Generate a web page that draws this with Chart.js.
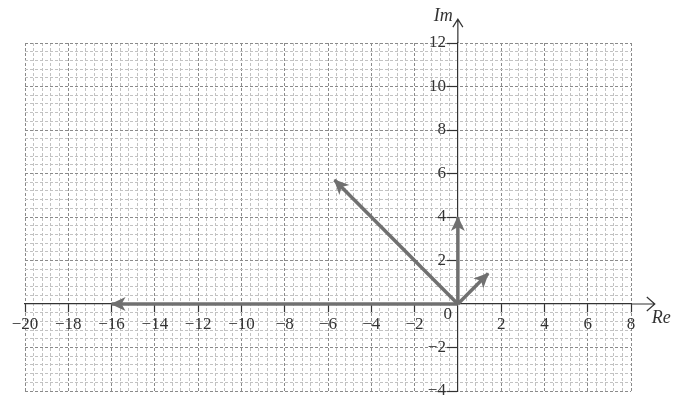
<!DOCTYPE html>
<html>
<head>
<meta charset="utf-8">
<script src="https://cdn.jsdelivr.net/npm/chart.js@4.4.0/dist/chart.umd.min.js"></script>
<style>
  body { margin: 0; background: #fff; }
</style>
</head>
<body>
<canvas id="myChart" width="681" height="406"></canvas>
<script>
// vectors drawn from the origin: real and imaginary parts
var reParts = [1.4, 0, -5.7, -16];
var imParts = [1.4, 4, 5.7, 0];

var xRange = [-20, 8];
var yRange = [-4, 12];
var gridStep = 0.4;   // fine grid
var labelStep = 2;    // labelled ticks
var axisNames = ['Re', 'Im'];

var serif = "'Liberation Serif', 'DejaVu Serif', serif";
Chart.defaults.font.family = serif;
Chart.defaults.font.size = 17;
Chart.defaults.color = '#333';

function isMajor(v) {
  return Math.abs(v / labelStep - Math.round(v / labelStep)) < 1e-6;
}
function isZero(v) { return Math.abs(v) < 1e-9; }
function fmt(v) {
  if (!isMajor(v) || isZero(v)) return '';
  v = Math.round(v);
  return v < 0 ? '\u2212' + Math.abs(v) : '' + v;
}
// y labels sit right on the axis line in chart.js, so pad them with spaces
function fmtY(v) {
  var s = fmt(v);
  return s ? s + '\u2007\u2009' : '';
}
function gridColor(c) {
  var v = c.tick ? c.tick.value : 0;
  if (isZero(v)) return 'rgba(0,0,0,0)';
  return isMajor(v) ? '#8a8a8a' : '#c2c2c2';
}
function tickColor(c) {
  var v = c.tick ? c.tick.value : 0;
  return isMajor(v) && !isZero(v) ? '#333' : 'rgba(0,0,0,0)';
}

var datasets = reParts.map(function(re, i) {
  return {
    data: [{x: 0, y: 0}, {x: re, y: imParts[i]}],
    showLine: true,
    borderColor: '#707070',
    borderWidth: 3.5,
    borderCapStyle: 'butt',
    pointRadius: 0
  };
});

// arrowheads, axis arrows and axis names
var extras = {
  id: 'extras',
  afterDatasetsDraw: function(chart) {
    var ctx = chart.ctx, xs = chart.scales.x, ys = chart.scales.y;
    var ox = xs.getPixelForValue(0), oy = ys.getPixelForValue(0);
    ctx.save();
    chart.data.datasets.forEach(function(ds, i) {
      var pts = chart.getDatasetMeta(i).data;
      var a = pts[0], b = pts[1];
      var ang = Math.atan2(b.y - a.y, b.x - a.x);
      ctx.save();
      ctx.translate(b.x, b.y);
      ctx.rotate(ang);
      ctx.beginPath();
      ctx.moveTo(1, 0);
      ctx.lineTo(-14, -7);
      ctx.lineTo(-10, 0);
      ctx.lineTo(-14, 7);
      ctx.closePath();
      ctx.fillStyle = '#707070';
      ctx.fill();
      ctx.restore();
    });

    ctx.strokeStyle = '#333';
    ctx.lineWidth = 1.2;
    // real axis extension
    var xEnd = xs.getPixelForValue(xRange[1] + 1.1);
    ctx.beginPath();
    ctx.moveTo(xs.getPixelForValue(xRange[1]), oy);
    ctx.lineTo(xEnd, oy);
    ctx.moveTo(xEnd - 8, oy - 7);
    ctx.lineTo(xEnd, oy);
    ctx.lineTo(xEnd - 8, oy + 7);
    ctx.stroke();
    // imaginary axis extension
    var yEnd = ys.getPixelForValue(yRange[1] + 1.1);
    ctx.beginPath();
    ctx.moveTo(ox, ys.getPixelForValue(yRange[1]));
    ctx.lineTo(ox, yEnd);
    ctx.moveTo(ox - 5, yEnd + 8);
    ctx.lineTo(ox, yEnd);
    ctx.lineTo(ox + 5, yEnd + 8);
    ctx.stroke();

    ctx.fillStyle = '#333';
    ctx.font = 'italic 18px ' + serif;
    ctx.textBaseline = 'middle';
    ctx.textAlign = 'left';
    ctx.fillText(axisNames[0], xEnd - 3, oy + 14);
    ctx.textAlign = 'right';
    ctx.fillText(axisNames[1], ox - 5, yEnd - 3);
    ctx.font = '17px ' + serif;
    ctx.textAlign = 'center';
    ctx.fillText('0', ox - 10, oy + 11);
    ctx.restore();
  }
};

var ctx = document.getElementById('myChart').getContext('2d');
var myChart = new Chart(ctx, {
  type: 'scatter',
  data: { datasets: datasets },
  options: {
    responsive: false,
    animation: false,
    devicePixelRatio: 1,
    layout: {
      padding: { left: 25, right: 50, top: 43, bottom: 15 }
    },
    plugins: {
      legend: { display: false },
      tooltip: { enabled: false }
    },
    scales: {
      x: {
        type: 'linear',
        min: xRange[0],
        max: xRange[1],
        position: { y: 0 },
        afterFit: function(s) { s.height = 0; },
        border: { color: '#333', width: 1.2, dash: [3, 2] },
        grid: {
          color: gridColor,
          lineWidth: 1,
          tickColor: tickColor,
          tickLength: 8,
          tickWidth: 1.2
        },
        ticks: {
          stepSize: gridStep,
          precision: 1,
          autoSkip: false,
          maxRotation: 0,
          minRotation: 0,
          padding: 2,
          callback: fmt
        }
      },
      y: {
        type: 'linear',
        min: yRange[0],
        max: yRange[1],
        position: { x: 0 },
        afterFit: function(s) { s.width = 0; },
        border: { color: '#333', width: 1.2, dash: [3, 2] },
        grid: {
          color: gridColor,
          lineWidth: 1,
          tickColor: tickColor,
          tickLength: 10,
          tickWidth: 1.2
        },
        ticks: {
          stepSize: gridStep,
          precision: 1,
          autoSkip: false,
          padding: 1,
          callback: fmtY
        }
      }
    }
  },
  plugins: [extras]
});
</script>
</body>
</html>
